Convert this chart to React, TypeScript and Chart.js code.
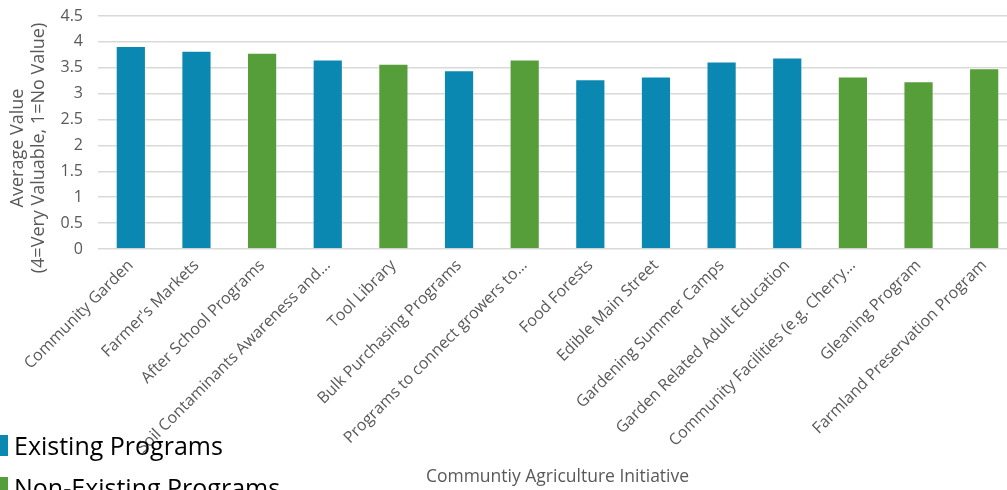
import React, { useEffect, useRef } from "react";
import { Chart, registerables } from "chart.js";

Chart.register(...registerables);

const categories = [
  "Community Garden",
  "Farmer's Markets",
  "After School Programs",
  "Soil Contaminants Awareness and…",
  "Tool Library",
  "Bulk Purchasing Programs",
  "Programs to connect growers to…",
  "Food Forests",
  "Edible Main Street",
  "Gardening Summer Camps",
  "Garden Related Adult Education",
  "Community Facilities (e.g. Cherry…",
  "Gleaning Program",
  "Farmland Preservation Program",
];

const averageValues = [3.92, 3.83, 3.79, 3.66, 3.58, 3.45, 3.66, 3.28, 3.33, 3.62, 3.7, 3.33, 3.24, 3.49];

const programStatus = [
  "existing",
  "existing",
  "non-existing",
  "existing",
  "non-existing",
  "existing",
  "non-existing",
  "existing",
  "existing",
  "existing",
  "existing",
  "non-existing",
  "non-existing",
  "non-existing",
];

const seriesKeys = ["existing", "non-existing"];
const seriesNames = ["Existing Programs", "Non-Existing Programs"];
const seriesColors = ["#0a88b1", "#559e3a"];

const yMin = 0;
const yMax = 4.5;
const yStep = 0.5;

const yTitleLines = ["Average Value", "(4=Very Valuable, 1=No Value)"];
const xTitle = "Communtiy Agriculture Initiative";

const FONT = "'Open Sans', 'Noto Sans', sans-serif";
const TEXT_GRAY = "#595959";

const yTitlePlugin = {
  id: "yTitleLines",
  afterDraw(chart: any) {
    const ctx = chart.ctx;
    ctx.save();
    ctx.fillStyle = TEXT_GRAY;
    ctx.font = `18px ${FONT}`;
    ctx.textAlign = "center";
    ctx.textBaseline = "middle";
    const cy = 148;
    const xs = [18, 39];
    yTitleLines.forEach((line, i) => {
      ctx.save();
      ctx.translate(xs[i], cy);
      ctx.rotate(-Math.PI / 2);
      ctx.fillText(line, 0, 0);
      ctx.restore();
    });
    ctx.restore();
  },
};

export default function App() {
  const canvasRef = useRef<HTMLCanvasElement | null>(null);

  useEffect(() => {
    document.body.style.margin = "0";
    const canvas = canvasRef.current;
    if (!canvas) return;
    const datasets = seriesKeys.map((key, s) => ({
      label: seriesNames[s],
      data: averageValues.map((v, i) => (programStatus[i] === key ? v : null)),
      backgroundColor: seriesColors[s],
      borderColor: "rgba(255,255,255,0.35)",
      borderWidth: 1,
      categoryPercentage: 1,
      barPercentage: 0.46,
      grouped: false,
    }));
    const chart = new Chart(canvas, {
      type: "bar",
      data: { labels: categories, datasets },
      options: {
        responsive: false,
        maintainAspectRatio: false,
        animation: false,
        layout: { padding: { top: 16, left: 0, right: 0, bottom: 0 } },
        plugins: {
          legend: { display: false },
          tooltip: { enabled: false },
        },
        scales: {
          x: {
            grid: { display: false, drawTicks: false },
            border: { display: false },
            ticks: {
              color: TEXT_GRAY,
              font: { family: FONT, size: 16 },
              minRotation: 45,
              maxRotation: 45,
              autoSkip: false,
              padding: 7,
            },
            title: {
              display: true,
              text: xTitle,
              color: TEXT_GRAY,
              font: { family: FONT, size: 17.5 },
              padding: { top: 0, bottom: 2 },
            },
            afterFit: (scale: any) => {
              scale.height = 241;
            },
          },
          y: {
            min: yMin,
            max: yMax,
            ticks: {
              stepSize: yStep,
              color: TEXT_GRAY,
              font: { family: FONT, size: 16 },
              padding: 15,
              callback: (v: any) => String(Number(v)),
            },
            grid: { color: "#d9d9d9", lineWidth: 1.5, drawTicks: false },
            border: { display: false },
            afterFit: (scale: any) => {
              scale.width = 98;
              scale.paddingTop = 0;
              scale.paddingBottom = 0;
            },
          },
        },
      },
      plugins: [yTitlePlugin],
    });
    return () => chart.destroy();
  }, []);

  return (
    <div
      style={{
        position: "fixed",
        left: 0,
        top: 0,
        width: 1007,
        height: 490,
        overflow: "hidden",
        background: "#fff",
      }}
    >
      <canvas ref={canvasRef} width={1017} height={490} style={{ display: "block" }} />
      <div
        style={{
          position: "absolute",
          left: 0,
          top: 424,
          fontFamily: FONT,
          fontSize: 25,
          color: "#000",
        }}
      >
        {seriesNames.map((name, i) => (
          <div key={name} style={{ display: "flex", alignItems: "center", height: 42, whiteSpace: "nowrap" }}>
            <span
              style={{
                display: "inline-block",
                width: 8,
                height: 21,
                background: seriesColors[i],
                marginRight: 6,
              }}
            />
            <span>{name}</span>
          </div>
        ))}
      </div>
    </div>
  );
}
